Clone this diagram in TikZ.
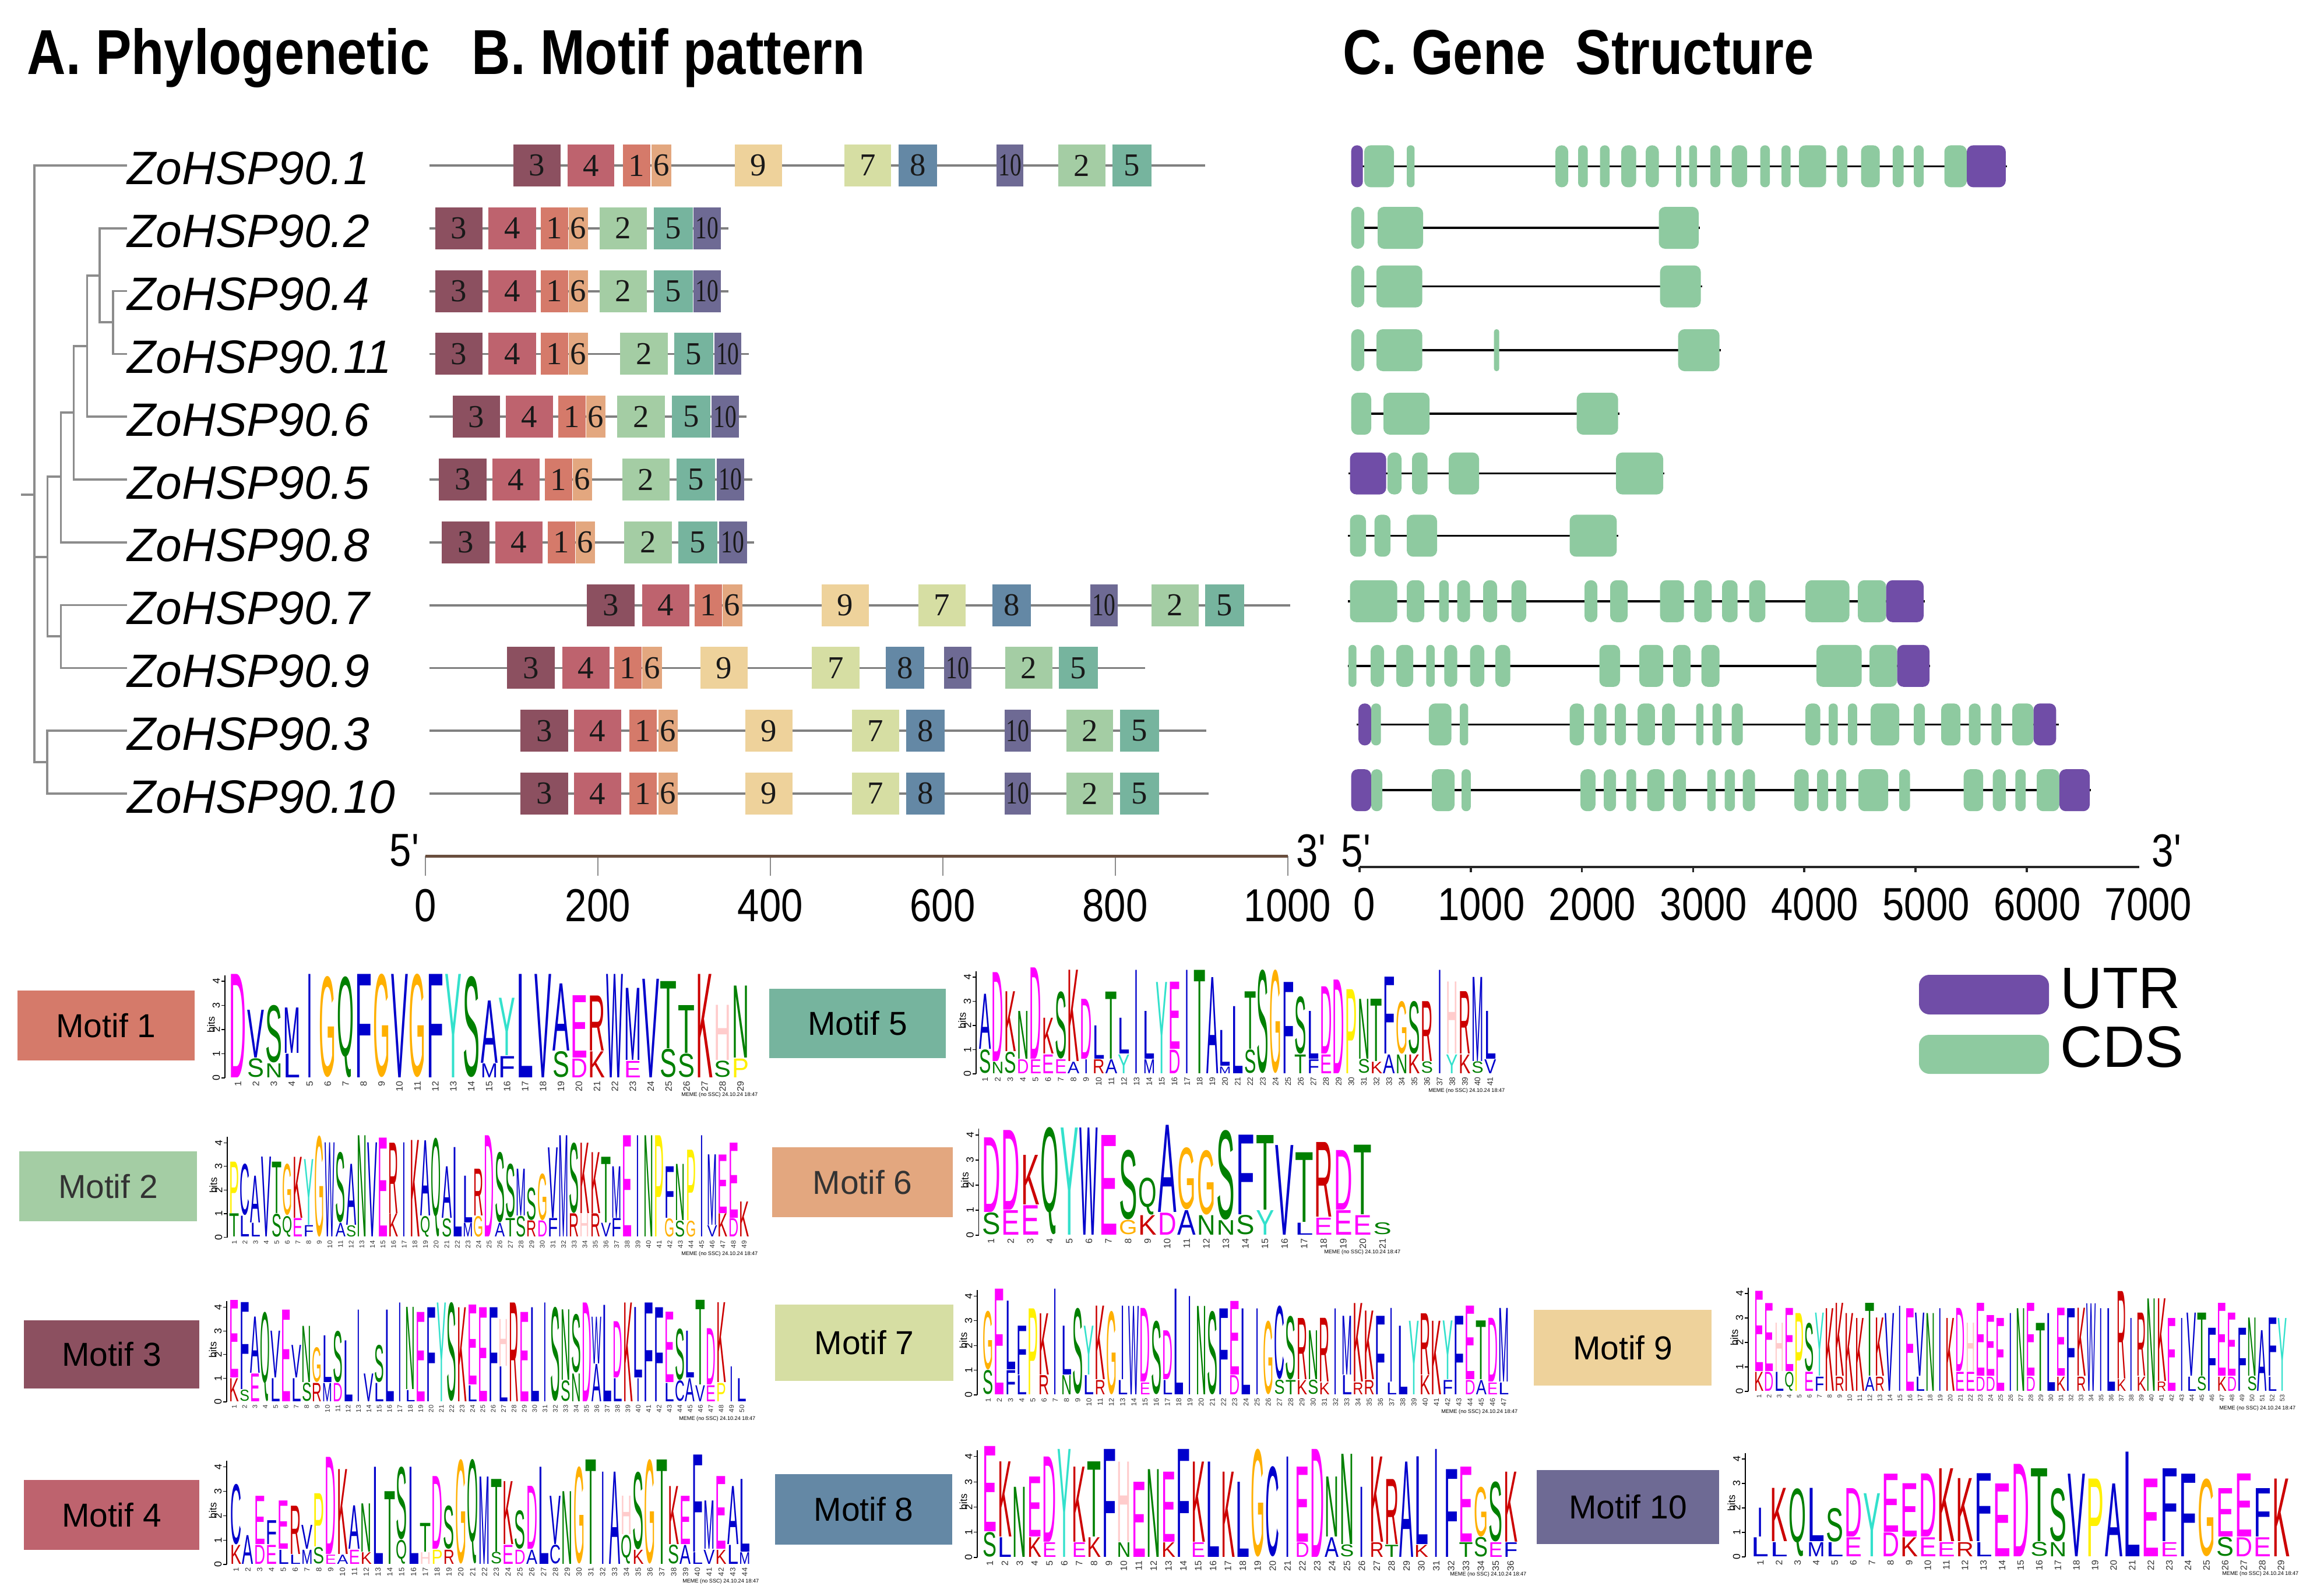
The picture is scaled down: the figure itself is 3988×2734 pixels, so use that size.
\documentclass[tikz,border=0pt]{standalone}
\usepackage{fontspec}
\setmainfont{Liberation Sans}
\newfontfamily\serifnum{Liberation Serif}
\usepackage{graphicx}
\definecolor{mc1}{RGB}{213,122,106}
\definecolor{mc2}{RGB}{164,205,164}
\definecolor{mc3}{RGB}{140,80,96}
\definecolor{mc4}{RGB}{190,99,110}
\definecolor{mc5}{RGB}{118,180,158}
\definecolor{mc6}{RGB}{227,167,127}
\definecolor{mc7}{RGB}{214,222,163}
\definecolor{mc8}{RGB}{100,136,165}
\definecolor{mc9}{RGB}{238,210,155}
\definecolor{mc10}{RGB}{110,106,148}
\definecolor{gc}{RGB}{142,202,160}
\definecolor{gu}{RGB}{112,77,167}
\definecolor{treegray}{RGB}{140,140,140}
\definecolor{linegray}{RGB}{128,128,128}
\definecolor{axbrown}{RGB}{105,78,62}
\definecolor{lblue}{RGB}{0,0,204}
\definecolor{lgreen}{RGB}{0,128,0}
\definecolor{lmag}{RGB}{255,0,255}
\definecolor{lred}{RGB}{204,0,0}
\definecolor{lpink}{RGB}{255,204,204}
\definecolor{lorange}{RGB}{255,176,0}
\definecolor{lyellow}{RGB}{255,240,0}
\definecolor{lcyan}{RGB}{51,225,204}
\colorlet{lcA}{lblue}\colorlet{lcC}{lblue}\colorlet{lcF}{lblue}\colorlet{lcI}{lblue}
\colorlet{lcL}{lblue}\colorlet{lcV}{lblue}\colorlet{lcW}{lblue}\colorlet{lcM}{lblue}
\colorlet{lcN}{lgreen}\colorlet{lcQ}{lgreen}\colorlet{lcS}{lgreen}\colorlet{lcT}{lgreen}
\colorlet{lcD}{lmag}\colorlet{lcE}{lmag}\colorlet{lcK}{lred}\colorlet{lcR}{lred}
\colorlet{lcH}{lpink}\colorlet{lcG}{lorange}\colorlet{lcP}{lyellow}\colorlet{lcY}{lcyan}
\def\lwI{0.32}
\def\getlw#1{\ifcsname lw#1\endcsname\csname lw#1\endcsname\else 0.94\fi}
\newcommand\mnum[1]{\ifnum#1=10 \scalebox{0.72}[1]{10}\else#1\fi}
\newcommand\qs{\textquotesingle}
\tikzset{
 hdr/.style={anchor=base west, inner sep=0, font=\bfseries\fontsize{31}{31}\selectfont},
 gname/.style={anchor=base west, inner sep=0, font=\itshape\fontsize{22.85}{22.85}\selectfont},
 treeline/.style={draw=treegray, line width=0.35mm},
 pline/.style={draw=linegray, line width=0.38mm},
 mbox/.style={inner sep=0, minimum height=7.2mm, font=\serifnum\fontsize{15.6}{15.6}\selectfont, text=black!90},
 paxis/.style={draw=axbrown, line width=0.5mm},
 ptick/.style={draw=black!45, line width=0.2mm},
 axl/.style={inner sep=0, font=\fontsize{22.6}{22.6}\selectfont},
 gaxis/.style={draw=black!85, line width=0.35mm},
 intron/.style={draw=black, line width=0.35mm},
 leg/.style={inner sep=0, anchor=west, font=\fontsize{28.5}{28.5}\selectfont},
 mlab/.style={inner sep=0, font=\fontsize{16.2}{16.2}\selectfont},
 laxis/.style={draw=black, line width=0.12mm},
 ltick/.style={inner sep=0, rotate=90, anchor=south, font=\fontsize{5}{5}\selectfont},
 lbits/.style={inner sep=0, rotate=90, font=\fontsize{5}{5}\selectfont},
 lett/.style={inner sep=0, outer sep=0, anchor=south},
 pnum/.style={inner sep=0, rotate=90, anchor=east, text=black!80},
 memefoot/.style={inner sep=0, anchor=east, font=\fontsize{2.6}{2.6}\selectfont}
}
% protein motif row: y, xstart, xend, list motif/x1/x2
\newcommand\prot[4]{%
  \draw[pline] (#2,#1) -- (#3,#1);
  \foreach \m/\xa/\xb in {#4}{%
    \pgfmathsetmacro\wmm{(\xb-\xa)*0.1}%
    \node[mbox, fill=mc\m, minimum width=\wmm mm] at ({(\xa+\xb)/2},#1) {\mnum{\m}};
  }%
}
% gene structure row: y, xstart, xend, list type/x1/x2
\newcommand\gene[4]{%
  \draw[intron] (#2,#1) -- (#3,#1);
  \foreach \tp/\xa/\xb in {#4}{%
    \pgfmathsetmacro\rr{min(11,(\xb-\xa)/2-0.3)*0.1}%
    \fill[fill=g\tp, rounded corners=\rr mm] (\xa,{#1-36}) rectangle (\xb,{#1+36});
  }%
}
% sequence logo: axis x, x0, x1, baseline, bit px, list top/h/bottom/g
\newcommand\drawlogo[6]{%
  \foreach \cc [count=\nn] in {#6}{\xdef\ncols{\nn}}%
  \pgfmathsetmacro\cw{(#3-#2)/\ncols}%
  \pgfmathsetmacro\cwmm{\cw*0.1}%
  \pgfmathsetmacro\pfs{min(4.5,\cw*0.18)}%
  \draw[laxis] (#1,#4) -- (#1,{#4-4.25*#5});
  \foreach \t in {0,...,4}{%
    \draw[laxis] (#1,{#4-\t*#5}) -- ++(-6,0);
    \node[ltick] at ({#1-8},{#4-\t*#5}) {\t};
  }%
  \node[lbits] at ({#1-24},{#4-2.2*#5}) {bits};
  \foreach \L/\h/\M/\g [count=\i] in {#6}{%
    \pgfmathsetmacro\xc{#2+(\i-0.5)*\cw}%
    \pgfmathsetmacro\hmm{\h*#5*0.1-0.1}%
    \pgfmathsetmacro\wL{\cwmm*\getlw{\L}}%
    \node[lett] at (\xc,{#4-\g*#5-1}) {\textcolor{lc\L}{\resizebox*{\wL mm}{\hmm mm}{\L}}};
    \ifdim\g pt>0pt
      \pgfmathsetmacro\gmm{\g*#5*0.1-0.1}%
      \pgfmathsetmacro\wM{\cwmm*\getlw{\M}}%
      \node[lett] at (\xc,{#4-1}) {\textcolor{lc\M}{\resizebox*{\wM mm}{\gmm mm}{\M}}};
    \fi
    \node[pnum, font=\fontsize{\pfs}{\pfs}\selectfont] at (\xc,{#4+5}) {\i};
  }%
  \node[memefoot] at ({#3+15},{#4+29}) {MEME (no SSC) 24.10.24 18:47};
}
\begin{document}
\begin{tikzpicture}[x=0.1mm,y=-0.1mm]
\useasboundingbox (0,0) rectangle (3988,2734);
\fill[white] (0,0) rectangle (3988,2734);

% headers
\node[hdr] (hA) at (46,128) {\scalebox{0.845}[1]{A. Phylogenetic}};
\node[hdr] (hB) at (809,128) {\scalebox{0.845}[1]{B. Motif pattern}};
\node[hdr] (hC) at (2304,128) {\scalebox{0.845}[1]{C. Gene\ \ Structure}};

% gene names and leaf coordinates
\foreach \nm/\k in {1/0,2/1,4/2,11/3,6/4,5/5,8/6,7/7,9/8,3/9,10/10}{
  \pgfmathsetmacro\yy{284+107.8*\k}
  \coordinate (leaf\nm) at (218,\yy);
  \node[gname] (g\nm) at (218,\yy+33) {ZoHSP90.\nm};
}

% tree
\coordinate (root) at (36,849);
\coordinate (R) at (59,849);
\coordinate (A) at (81.6,956);
\coordinate (C) at (104.6,818);
\coordinate (E) at (126.5,708);
\coordinate (F) at (149.5,594);
\coordinate (G) at (171,473);
\coordinate (H) at (194,553);
\coordinate (D) at (104.6,1092);
\coordinate (B) at (81,1308);
\draw[treeline] (root) -- (R);
\draw[treeline] (R) |- (leaf1);
\draw[treeline] (R) |- (A);
\draw[treeline] (R) |- (B);
\draw[treeline] (A) |- (C);
\draw[treeline] (A) |- (D);
\draw[treeline] (C) |- (E);
\draw[treeline] (C) |- (leaf8);
\draw[treeline] (E) |- (F);
\draw[treeline] (E) |- (leaf5);
\draw[treeline] (F) |- (G);
\draw[treeline] (F) |- (leaf6);
\draw[treeline] (G) |- (leaf2);
\draw[treeline] (G) |- (H);
\draw[treeline] (H) |- (leaf4);
\draw[treeline] (H) |- (leaf11);
\draw[treeline] (D) |- (leaf7);
\draw[treeline] (D) |- (leaf9);
\draw[treeline] (B) |- (leaf3);
\draw[treeline] (B) |- (leaf10);

% motif patterns
\prot{284}{736.7}{2068}{3/880.6/962.2, 4/973.5/1054, 1/1069/1116, 6/1118/1152, 9/1261/1342, 7/1449/1528.6, 8/1542/1608, 10/1710/1756, 2/1816/1897, 5/1909/1975.5}
\prot{391.8}{736.7}{1250}{3/747/827.6, 4/837.8/920.4, 1/927.6/974.5, 6/975.5/1009, 2/1028.6/1110, 5/1122.4/1188.8, 10/1189.8/1236.7}
\prot{499.6}{736.7}{1250}{3/747/827.6, 4/837.8/920.4, 1/927.6/974.5, 6/975.5/1009, 2/1028.6/1110, 5/1122.4/1188.8, 10/1189.8/1236.7}
\prot{607.4}{736.7}{1284.7}{3/747/827.6, 4/837.8/920.4, 1/927.6/974.5, 6/975.5/1009, 2/1064/1146, 5/1157/1223.5, 10/1225.5/1272.4}
\prot{715.2}{736.7}{1280.6}{3/776.5/858, 4/868/949, 1/958/1005, 6/1006/1039, 2/1059/1141, 5/1153/1219, 10/1221/1268}
\prot{823}{736.7}{1290.8}{3/753/834.7, 4/845/925.5, 1/934.7/981.6, 6/982.7/1016, 2/1068/1149, 5/1161/1226.5, 10/1229.6/1276.5}
\prot{930.8}{736.7}{1294}{3/758/839.8, 4/850/930.6, 1/939.8/986.7, 6/987.8/1021.4, 2/1071/1153, 5/1164/1230.6, 10/1233.7/1281.6}
\prot{1038.6}{736.7}{2214}{3/1007/1088.8, 4/1102/1182.7, 1/1191.8/1238.8, 6/1239.8/1273.5, 9/1410/1490.8, 7/1575.5/1657, 8/1703/1769, 10/1871/1918, 2/1975.5/2057, 5/2068/2134.7}
\prot{1146.4}{736.7}{1965}{3/870/952, 4/965/1046, 1/1054/1101, 6/1102/1135.7, 9/1202/1282.7, 7/1393/1474.5, 8/1520/1585.7, 10/1620/1667, 2/1724.5/1806, 5/1817/1883.7}
\prot{1254.2}{736.7}{2070}{3/892.9/974.5, 4/984.7/1066, 1/1079.6/1126.5, 6/1129.6/1163, 9/1278.6/1360, 7/1462/1543, 8/1555/1621.4, 10/1723.5/1769.4, 2/1829.6/1910, 5/1922/1988.8}
\prot{1362}{736.7}{2074}{3/892.9/974.5, 4/984.7/1066, 1/1079.6/1126.5, 6/1129.6/1163, 9/1278.6/1360, 7/1462/1543, 8/1555/1621.4, 10/1723.5/1769.4, 2/1829.6/1910, 5/1922/1988.8}

% protein axis
\foreach \v in {0,200,400,600,800,1000}{
  \pgfmathsetmacro\xx{729.7+\v*1.4799}
  \draw[ptick] (\xx,1469) -- (\xx,1503);
  \node[axl] at (\xx,1554.6) {\scalebox{0.845}[1]{\v}};
}
\draw[paxis] (729.7,1469) -- (2209.6,1469);
\node[axl] (p5) at (694,1460) {\scalebox{0.845}[1]{5\qs}};
\node[axl] (p3) at (2250,1460) {\scalebox{0.845}[1]{3\qs}};

% gene structures
\gene{285.4}{2318.7}{3444}{u/2318.7/2338.7, c/2341/2392, c/2414/2427.4, c/2669/2691, c/2708/2724.5, c/2745.6/2762, c/2782/2807.6, c/2824/2846.5, c/2876/2885, c/2898.6/2912, c/2935/2952, c/2971.7/2998, c/3020.5/3037, c/3057/3072.6, c/3087/3133.6, c/3152.4/3170, c/3193.5/3225.6, c/3247.8/3266.6, c/3284/3301, c/3336.5/3375, u/3375/3441.8}
\gene{391}{2318.7}{2917}{c/2318.7/2341, c/2364/2442, c/2846.5/2915}
\gene{491.6}{2318.7}{2920.7}{c/2318.7/2341, c/2362/2440.7, c/2848.7/2918.5}
\gene{601}{2318.7}{2953}{c/2318.7/2341, c/2362/2440.7, c/2563.7/2572.6, c/2879.7/2950.7}
\gene{710}{2318.7}{2778.8}{c/2318.7/2353, c/2374/2453, c/2705.7/2776.6}
\gene{812.6}{2314}{2856}{u/2316.5/2378.6, c/2380.8/2405, c/2423/2449.6, c/2486/2538, c/2773/2854}
\gene{919.4}{2313}{2776.6}{c/2316.5/2344, c/2358.6/2386, c/2414/2466, c/2693.5/2774.4}
\gene{1031.8}{2313}{3303}{c/2316.5/2397.5, c/2414/2444, c/2469.5/2486, c/2500.5/2522.7, c/2545/2569, c/2593.7/2619, c/2719/2741, c/2763/2793, c/2848.7/2889.7, c/2907.4/2937.4, c/2955/2981.7, c/3001.7/3029.4, c/3098/3173.5, c/3188/3236.7, u/3236.7/3301}
\gene{1142.8}{2313}{3312}{c/2314/2327.6, c/2352/2375, c/2396/2425, c/2447.3/2461.8, c/2478.4/2500.5, c/2522.7/2547, c/2566/2591.5, c/2744.5/2780, c/2813/2854, c/2871/2900.8, c/2919.6/2950.7, c/3117/3194.6, c/3208/3255.5, u/3255.5/3311}
\gene{1243.3}{2327.6}{3532.7}{u/2331/2353, c/2353/2369.7, c/2451.8/2490.6, c/2505/2519.4, c/2693.5/2718, c/2735.6/2756.7, c/2771/2790, c/2810/2839.8, c/2852/2874, c/2910.7/2923, c/2938.5/2954, c/2971.7/2990.6, c/3098/3123.6, c/3138/3153.6, c/3171/3186.8, c/3210/3259, c/3284/3303, c/3331/3364, c/3378.6/3398.6, c/3417.4/3434, c/3453/3489.5, u/3489.5/3528.3}
\gene{1356.2}{2318.7}{3588}{u/2318.7/2353, c/2353/2372, c/2457/2496, c/2508/2523.8, c/2712/2737.8, c/2752/2773, c/2791/2807.6, c/2826.5/2856.4, c/2870.8/2893, c/2929.6/2944, c/2959.5/2977, c/2990.6/3011.6, c/3079/3103.7, c/3118/3137, c/3151/3168, c/3189/3240, c/3259/3277.7, c/3369.7/3403, c/3419.6/3441.8, c/3458.4/3476, c/3495/3533.8, u/3533.8/3586}

% gene axis
\foreach \k in {0,...,6}{
  \pgfmathsetmacro\xx{2333+190.8*\k}
  \draw[gaxis] (\xx,1488) -- (\xx,1497);
}
\foreach \k in {0,...,7}{
  \pgfmathsetmacro\xx{2333+190.8*\k+(\k==0?8:18)}
  \pgfmathtruncatemacro\vv{\k*1000}
  \node[axl] at (\xx,1552) {\scalebox{0.845}[1]{\vv}};
}
\draw[gaxis] (2333,1488) -- (3671,1488);
\node[axl] (g5) at (2327,1461) {\scalebox{0.845}[1]{5\qs}};
\node[axl] (g3) at (3718,1460) {\scalebox{0.845}[1]{3\qs}};

% legend
\fill[gu, rounded corners=1.8mm] (3293,1673) rectangle (3516,1741);
\fill[gc, rounded corners=1.8mm] (3293,1776) rectangle (3516,1843);
\node[leg] (lutr) at (3535,1697) {UTR};
\node[leg] (lcds) at (3535,1797) {CDS};

% motif labels
\node[mlab, fill=mc1, minimum width=30.4mm, minimum height=12mm] (M1) at (182,1760) {Motif 1};
\node[mlab, fill=mc2, minimum width=30.5mm, minimum height=12mm, text=black!80] (M2) at (185.5,2036) {Motif 2};
\node[mlab, fill=mc3, minimum width=30.1mm, minimum height=11.7mm] (M3) at (191.5,2324.5) {Motif 3};
\node[mlab, fill=mc4, minimum width=30.1mm, minimum height=12mm] (M4) at (191.5,2600) {Motif 4};
\node[mlab, fill=mc5, minimum width=30.3mm, minimum height=11.9mm] (M5) at (1471.5,1756.5) {Motif 5};
\node[mlab, fill=mc6, minimum width=31mm, minimum height=12mm, text=black!80] (M6) at (1480,2029) {Motif 6};
\node[mlab, fill=mc7, minimum width=30.6mm, minimum height=13.1mm] (M7) at (1483,2304.5) {Motif 7};
\node[mlab, fill=mc8, minimum width=30.4mm, minimum height=12.1mm] (M8) at (1482,2590.5) {Motif 8};
\node[mlab, fill=mc9, minimum width=30.5mm, minimum height=13mm] (M9) at (2784.5,2313) {Motif 9};
\node[mlab, fill=mc10, minimum width=31.3mm, minimum height=12.7mm] (M10) at (2793.5,2586.5) {Motif 10};

% logos
\drawlogo{386}{393}{1286}{1850}{41.5}{D/4.3/-/0, V/2.0/S/0.8, S/2.4/N/0.6, M/1.9/L/1.0, I/4.3/-/0, G/4.2/-/0, Q/4.2/-/0, F/4.3/-/0, G/4.3/-/0, V/4.3/-/0, G/4.3/-/0, F/4.3/-/0, Y/4.3/-/0, S/4.2/-/0, A/2.6/M/0.6, Y/2.4/F/0.9, L/4.3/-/0, V/4.3/-/0, A/2.8/S/1.1, E/2.6/D/0.8, R/2.3/K/1.1, W/4.3/-/0, M/3.0/E/0.7, V/4.1/-/0, T/2.8/S/1.2, T/2.0/S/1.0, K/4.3/-/0, H/2.3/S/0.7, N/3.0/P/0.8}

\drawlogo{390}{393}{1286}{2123.6}{40.6}{P/2.2/T/1.0, C/2.2/L/0.9, A/2.0/L/0.6, V/3.4/-/0, T/2.2/S/1.0, G/2.2/Q/0.9, K/2.6/E/0.8, Y/2.8/F/0.5, G/4.3/-/0, W/4.0/-/0, S/3.0/A/0.6, A/2.6/S/0.5, N/4.3/-/0, V/4.0/-/0, E/4.2/-/0, R/3.0/K/1.0, I/4.0/-/0, K/4.1/-/0, A/3.2/Q/0.9, Q/4.2/-/0, A/2.2/S/0.8, L/3.8/-/0, L/2.0/M/0.6, R/2.0/G/0.9, D/4.3/-/0, S/3.0/A/0.6, S/2.3/T/0.8, M/2.0/S/0.9, S/1.4/R/0.7, G/2.0/D/0.7, V/3.0/F/0.8, M/4.3/-/0, S/3.0/R/1.0, K/3.0/H/1.0, K/2.6/R/1.0, T/2.8/V/0.6, M/2.2/F/0.8, E/4.3/-/0, I/4.3/-/0, N/4.3/-/0, P/4.3/-/0, F/2.2/G/0.8, N/2.4/S/0.7, P/3.0/G/0.7, I/4.3/-/0, M/3.0/V/0.5, E/2.5/K/1.0, E/3.2/D/0.8, K/1.5/-/0}

\drawlogo{389}{393}{1282}{2406}{40.6}{E/3.3/K/1.0, F/3.7/S/0.5, A/2.4/E/1.2, Q/3.8/-/0, V/2.0/L/1.0, E/3.9/-/0, V/1.4/L/1.0, N/2.4/S/0.8, G/1.5/R/0.8, L/2.0/M/0.8, S/2.2/D/0.8, L/2.6/-/0, I/3.9/-/0, V/1.2/-/0, S/1.6/L/0.8, L/3.9/-/0, I/4.2/-/0, N/3.5/L/0.5, E/3.8/-/0, F/4.0/-/0, Y/4.2/-/0, S/4.2/-/0, K/4.0/-/0, E/3.4/L/0.7, E/4.0/-/0, F/4.0/-/0, H/2.0/L/1.5, R/4.2/-/0, E/3.8/-/0, L/4.0/-/0, I/4.2/-/0, S/4.0/-/0, N/3.0/S/0.9, S/2.5/N/1.2, D/4.2/-/0, W/2.0/A/1.6, L/4.1/-/0, D/2.4/L/1.0, K/4.2/-/0, L/3.0/I/1.0, F/4.2/-/0, F/4.0/-/0, E/3.0/L/0.8, S/2.2/C/0.9, L/2.0/A/1.0, T/3.6/V/0.7, D/2.4/E/0.7, K/3.4/P/0.8, I/1.5/-/0, L/1.0/-/0}

\drawlogo{389}{395}{1288}{2685}{41.9}{C/2.5/K/0.8, A/1.2/-/0, E/2.0/D/0.8, F/1.0/E/0.8, E/2.0/L/0.6, R/2.0/L/0.4, V/1.0/M/0.6, P/2.2/S/0.7, D/4.0/E/0.4, K/3.5/A/0.4, A/1.8/E/0.6, N/2.0/K/0.5, L/4.0/-/0, T/3.0/-/0, S/3.0/Q/1.0, L/4.0/-/0, T/1.2/H/0.5, D/3.0/P/0.6, S/1.8/R/0.6, G/4.3/-/0, Q/4.3/-/0, M/3.6/-/0, T/3.0/S/0.5, K/2.6/E/0.8, S/1.6/D/0.6, D/2.6/A/0.6, L/4.0/-/0, V/2.0/C/0.8, N/3.0/-/0, G/4.0/-/0, T/4.3/-/0, I/3.8/-/0, A/3.8/-/0, H/1.6/Q/1.2, S/3.2/K/0.6, G/4.3/-/0, T/4.3/-/0, K/2.4/S/0.8, E/2.0/A/0.8, F/4.0/L/0.5, M/2.0/V/0.6, E/3.0/K/0.6, A/2.4/L/0.8, L/3.0/M/0.5}

\drawlogo{1675}{1679.5}{2568}{1843}{41.5}{A/2.3/S/1.0, D/3.7/N/0.5, K/2.5/S/0.9, N/2.0/D/0.6, D/3.8/E/0.6, K/1.5/E/0.8, S/2.8/E/0.6, K/3.8/A/0.5, D/2.5/I/0.6, L/1.4/R/0.6, T/2.8/A/0.6, L/1.5/Y/0.8, I/4.3/-/0, L/2.0/M/0.6, Y/3.8/-/0, E/2.8/D/1.0, I/4.3/-/0, T/4.3/-/0, A/4.0/-/0, L/1.5/M/0.3, L/2.8/-/0, T/2.4/S/1.0, S/4.3/-/0, G/4.3/-/0, F/3.8/-/0, S/2.4/T/0.8, L/2.0/F/0.6, D/2.8/E/0.8, D/3.9/-/0, P/3.5/-/0, N/2.5/S/0.6, T/2.6/K/0.5, F/3.2/A/0.8, G/2.2/N/0.8, S/2.2/K/0.8, R/2.5/S/0.5, I/4.3/-/0, H/3.0/Y/0.8, R/2.6/K/0.8, M/3.5/S/0.5, L/2.0/V/0.6}

\drawlogo{1679.5}{1684}{2389}{2120}{43}{D/3.0/S/0.9, D/3.2/E/1.0, K/2.0/E/1.2, Q/4.3/-/0, Y/4.3/-/0, W/4.3/-/0, E/4.0/-/0, S/2.8/G/0.6, Q/1.5/K/0.8, A/3.5/D/0.9, G/2.5/A/1.0, G/2.6/N/0.8, S/3.6/N/0.6, F/3.2/S/0.8, T/3.0/Y/1.0, V/3.6/-/0, T/2.8/L/0.5, R/3.0/E/0.7, D/2.4/E/1.0, T/2.8/E/0.8, S/0.5/-/0}

\drawlogo{1677}{1686}{2590}{2394}{42.4}{G/2.4/S/1.0, E/4.3/-/0, L/2.8/F/1.0, F/2.0/L/0.8, P/3.5/-/0, K/2.5/R/0.8, I/4.3/-/0, L/2.0/N/0.8, S/3.5/-/0, Y/2.0/L/0.8, K/3.0/R/0.6, G/3.4/-/0, I/3.0/L/0.6, W/3.6/-/0, D/3.0/E/0.5, S/3.0/-/0, D/2.0/L/0.6, L/4.3/-/0, I/4.0/-/0, N/3.6/-/0, S/3.4/-/0, F/3.5/-/0, E/3.0/D/0.8, L/3.5/-/0, I/3.5/-/0, G/3.0/-/0, C/3.0/S/0.6, S/2.6/T/0.6, R/2.5/K/0.6, N/2.0/S/0.6, R/2.6/K/0.5, I/3.5/-/0, M/2.4/L/0.8, K/3.2/R/0.5, K/2.8/R/0.6, F/3.2/-/0, I/3.0/L/0.5, L/2.8/-/0, Y/3.0/-/0, R/2.5/K/0.8, K/3.0/-/0, Y/2.4/F/0.6, F/3.2/-/0, E/3.0/D/0.6, T/2.4/A/0.6, D/2.6/E/0.5, M/3.0/L/0.5}

\drawlogo{1677}{1686}{2605}{2673}{43.3}{E/3.4/S/1.0, K/3.0/L/0.8, N/2.8/-/0, E/2.4/K/0.8, D/3.4/E/0.6, Y/4.3/-/0, K/3.0/E/0.6, T/3.0/K/0.8, F/4.3/-/0, H/3.2/N/0.6, E/3.0/-/0, N/3.5/-/0, E/2.8/K/0.6, F/4.3/-/0, K/3.2/E/0.6, L/3.8/-/0, K/3.4/-/0, L/3.0/-/0, G/4.3/-/0, C/3.6/-/0, I/4.0/-/0, E/3.0/D/0.6, D/4.3/-/0, N/2.4/A/0.8, N/3.6/S/0.5, I/2.8/-/0, K/3.4/R/0.6, R/2.6/T/0.5, A/3.8/-/0, L/3.5/K/0.5, I/4.3/-/0, F/3.5/-/0, E/3.0/T/0.6, G/2.0/S/0.8, S/2.4/E/0.6, K/2.8/F/0.6}

\drawlogo{3000}{3010}{3925}{2388}{42}{E/3.3/K/0.8, E/2.8/D/0.8, H/2.0/L/0.8, E/2.6/Q/0.8, P/3.2/-/0, S/2.0/E/0.8, Y/2.6/F/0.6, K/3.4/-/0, K/3.0/R/0.6, K/3.2/-/0, K/3.0/-/0, T/3.0/A/0.6, K/2.4/R/0.6, V/3.2/-/0, I/3.5/-/0, E/3.4/-/0, V/2.6/L/0.6, N/3.2/-/0, I/3.4/-/0, K/3.0/-/0, D/2.6/E/0.8, H/2.0/E/0.8, E/3.0/D/0.6, E/2.5/D/0.6, E/3.0/-/0, I/3.2/-/0, N/3.4/-/0, E/3.0/D/0.6, T/2.8/-/0, L/3.2/-/0, E/2.8/K/0.6, F/3.4/-/0, K/2.8/R/0.6, W/3.6/-/0, I/3.4/-/0, L/3.4/-/0, R/3.6/K/0.5, I/3.0/-/0, R/2.6/K/0.6, N/3.8/-/0, K/3.4/R/0.4, E/3.0/-/0, I/3.0/-/0, V/2.6/L/0.6, T/2.6/S/0.6, F/2.6/-/0, E/3.0/K/0.6, E/2.6/D/0.6, F/2.6/-/0, N/2.4/S/0.6, A/2.5/-/0, F/2.4/L/0.6, Y/3.0/-/0}

\drawlogo{2995}{3005}{3930}{2672}{42}{I/1.2/L/0.8, K/2.2/L/0.6, Q/2.8/-/0, L/2.2/M/0.6, S/1.4/L/0.6, D/2.0/E/0.8, Y/2.6/-/0, E/2.4/D/1.0, E/2.2/K/0.8, D/2.6/E/0.8, K/3.0/E/0.6, K/2.6/R/0.6, F/2.8/L/0.6, E/3.0/-/0, D/3.8/-/0, T/3.0/S/0.6, S/2.2/N/0.6, V/3.4/-/0, P/3.2/-/0, A/3.0/-/0, L/4.3/-/0, E/3.2/-/0, F/3.0/E/0.6, F/3.4/-/0, G/3.2/-/0, E/2.0/S/0.8, E/2.6/D/0.8, F/2.0/E/0.8, K/3.2/-/0}
\end{tikzpicture}
\end{document}
